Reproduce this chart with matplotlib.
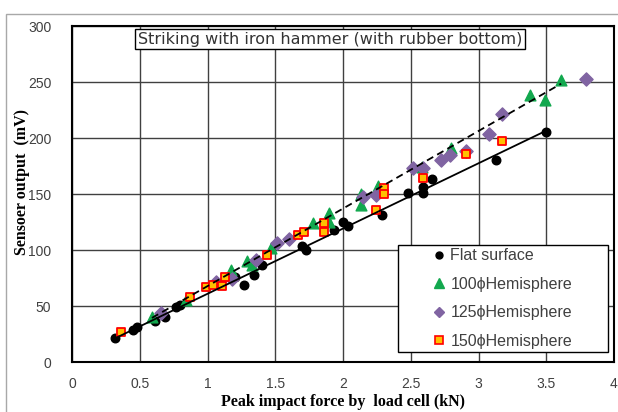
import numpy as np
import matplotlib
matplotlib.use("Agg")
import matplotlib.pyplot as plt
from matplotlib.lines import Line2D
from matplotlib.patches import Rectangle

# data (force kN, output mV)
flat_x = [0.32, 0.45, 0.48, 0.61, 0.69, 0.77, 0.80, 1.20, 1.27, 1.34, 1.40, 1.70,
          1.73, 1.93, 2.00, 2.04, 2.29, 2.48, 2.59, 2.59, 2.66, 3.13, 3.50]
flat_y = [21, 29, 31, 37, 40, 49, 51, 76, 69, 78, 87, 104,
          100, 118, 125, 121, 131, 151, 156, 151, 163, 180, 205]

h100_x = [0.59, 0.84, 1.17, 1.29, 1.33, 1.47, 1.78, 1.90, 1.90, 2.13, 2.13,
          2.26, 2.58, 2.80, 3.38, 3.49, 3.61]
h100_y = [40, 55, 82, 90, 87, 102, 124, 133, 125, 150, 140,
          157, 174, 191, 238, 234, 252]

h125_x = [0.66, 1.06, 1.18, 1.36, 1.51, 1.60, 2.15, 2.24, 2.52, 2.59, 2.72,
          2.79, 2.91, 3.08, 3.17, 3.79]
h125_y = [43.5, 71, 74, 91, 106, 110, 147, 149, 173, 173, 180,
          185, 188, 204, 221, 253]

h150_x = [0.36, 0.87, 0.99, 1.04, 1.11, 1.13, 1.44, 1.67, 1.71, 1.86, 1.86,
          2.24, 2.30, 2.30, 2.59, 2.91, 3.17]
h150_y = [26.5, 58, 67, 69, 68, 76, 95.5, 113, 116, 124, 116,
          136, 155, 150, 164, 186, 197]

labels = ["Flat surface", "100\u03d5Hemisphere", "125\u03d5Hemisphere", "150\u03d5Hemisphere"]
title = "Striking with iron hammer (with rubber bottom)"

green = "#12a84e"
purple = "#8064a2"

fig = plt.figure(figsize=(6.18, 4.12), dpi=100)
ax = fig.add_axes([72 / 618, 1 - 362 / 412, 542 / 618, 336 / 412])

# light gray chart-area border
fig.patches.append(Rectangle((6 / 618, -0.1), 1.1, 1 - 14 / 412 + 0.1,
                             transform=fig.transFigure, fill=False,
                             edgecolor="#a8a8a8", lw=1.0))

ax.set_xlim(0, 4)
ax.set_ylim(0, 300)
ax.set_xticks(np.arange(0, 4.01, 0.5))
ax.set_xticklabels(["0", "0.5", "1", "1.5", "2", "2.5", "3", "3.5", "4"])
ax.set_yticks(np.arange(0, 301, 50))
ax.grid(True, color="#404040", lw=1.0)
ax.set_axisbelow(True)
for s in ax.spines.values():
    s.set_linewidth(1.5)
    s.set_color("black")
ax.tick_params(length=0, labelsize=10, labelcolor="#404040")
ax.tick_params(axis="y", pad=15)
ax.tick_params(axis="x", pad=11)
for lab in ax.get_xticklabels() + ax.get_yticklabels():
    lab.set_family("Liberation Sans")

ax.scatter(flat_x, flat_y, s=38, marker="o", color="black", zorder=3, clip_on=False)
ax.scatter(h100_x, h100_y, s=60, marker="^", color=green, zorder=3, clip_on=False)
ax.scatter(h125_x, h125_y, s=45, marker="D", color=purple, zorder=3, clip_on=False)
ax.scatter(h150_x, h150_y, s=40, marker="s", facecolor="#ffc000", edgecolor="red",
           linewidth=1.3, zorder=3, clip_on=False)

# linear trendlines (flat solid, 100 hemisphere dashed)
p = np.polyfit(flat_x, flat_y, 1)
xs = np.array([min(flat_x), max(flat_x)])
ax.plot(xs, np.polyval(p, xs), color="black", lw=1.3, zorder=4)
p = np.polyfit(h100_x, h100_y, 1)
xs = np.array([min(h100_x), max(h100_x)])
ax.plot(xs, np.polyval(p, xs), color="black", lw=1.3, dashes=(4, 2.5), zorder=4)

ax.text((330 - 72) / 542, (362 - 39) / 336, title, transform=ax.transAxes,
        ha="center", va="center", fontsize=11.5, color="#333333",
        family="DejaVu Sans",
        bbox=dict(boxstyle="square,pad=0.18", facecolor="white", edgecolor="black", lw=1.0),
        zorder=6)

# legend box
ax.add_patch(Rectangle(((398 - 72) / 542, (362 - 352) / 336), 210 / 542, 107 / 336,
                       transform=ax.transAxes, facecolor="white", edgecolor="black",
                       lw=1.0, zorder=5))
handles = [
    Line2D([], [], ls="", marker="o", color="black", ms=5),
    Line2D([], [], ls="", marker="^", color=green, ms=7),
    Line2D([], [], ls="", marker="D", color=purple, ms=5),
    Line2D([], [], ls="", marker="s", mfc="#ffc000", mec="red", mew=1.2, ms=5.5),
]
leg = ax.legend(handles, labels, loc="upper left",
                bbox_to_anchor=((428 - 72) / 542, (362 - 245) / 336),
                frameon=False, handlelength=1.0, handletextpad=0.2,
                labelspacing=0.85, borderpad=0.2, borderaxespad=0,
                prop={"family": "Liberation Sans", "size": 11.5})
leg.set_zorder(6)
for t in leg.get_texts():
    t.set_color("#404040")

ax.set_xlabel("Peak impact force by  load cell (kN)", family="Liberation Serif",
              fontweight="bold", fontsize=11.5, labelpad=2)
fig.text(22 / 618, 1 - 182 / 412, "Sensoer output  (mV)", rotation=90,
         family="Liberation Serif", fontweight="bold", fontsize=11.5,
         ha="center", va="center")

fig.savefig("out.png", dpi=100)
